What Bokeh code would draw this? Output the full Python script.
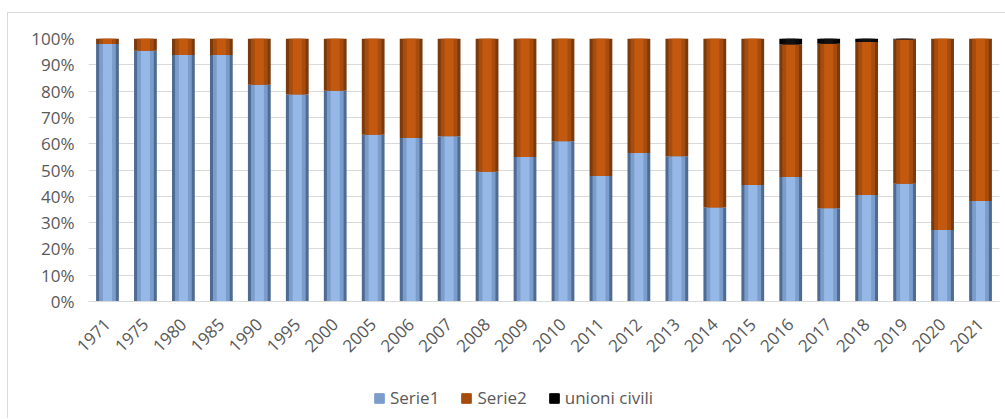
import math
from bokeh.plotting import figure
from bokeh.layouts import column
from bokeh.models import (ColumnDataSource, FactorRange, Legend, LegendItem,
                          NumeralTickFormatter, SingleIntervalTicker, Range1d)
from bokeh.embed import file_html
from bokeh.resources import INLINE

years = ["1971", "1975", "1980", "1985", "1990", "1995", "2000", "2005", "2006",
         "2007", "2008", "2009", "2010", "2011", "2012", "2013", "2014", "2015",
         "2016", "2017", "2018", "2019", "2020", "2021"]
serie1 = [97.9, 95.3, 93.7, 93.7, 82.4, 78.7, 80.1, 63.4, 62.2, 62.8, 49.3, 54.9,
          60.9, 47.7, 56.5, 55.2, 35.7, 44.3, 47.3, 35.5, 40.5, 44.8, 27.2, 38.2]
serie2 = [2.1, 4.7, 6.3, 6.3, 17.6, 21.3, 19.9, 36.6, 37.8, 37.2, 50.7, 45.1,
          39.1, 52.3, 43.5, 44.8, 64.3, 55.7, 50.4, 62.5, 58.2, 54.8, 72.8, 61.8]
unioni = [0, 0, 0, 0, 0, 0, 0, 0, 0, 0, 0, 0,
          0, 0, 0, 0, 0, 0, 2.3, 2.0, 1.3, 0.4, 0, 0]
names = ["Serie1", "Serie2", "unioni civili"]

source = ColumnDataSource(dict(
    years=years,
    s1=[v / 100 for v in serie1],
    s2=[v / 100 for v in serie2],
    u=[v / 100 for v in unioni],
))

FONT = "Open Sans"
GRAY = "#595959"
W = 997

p = figure(x_range=FactorRange(*years), y_range=Range1d(0, 1),
           width=W, height=347, output_backend="svg", toolbar_location=None,
           min_border_left=80, min_border_top=25, min_border_right=6,
           min_border_bottom=56)
p.outline_line_color = None

# bevel-like layered bars
outer = p.vbar_stack(["s1", "s2", "u"], x="years", width=0.6, source=source,
                     color=["#4E6B93", "#7A3A0C", "#000000"], line_color=None)
p.vbar_stack(["s1", "s2", "u"], x="years", width=0.44, source=source,
             color=["#7C9DCB", "#A54C0E", "#0A0A0A"], line_color=None)
p.vbar_stack(["s1", "s2", "u"], x="years", width=0.24, source=source,
             color=["#95B8E6", "#C2590F", "#111111"], line_color=None)

p.yaxis.ticker = SingleIntervalTicker(interval=0.1)
p.yaxis.formatter = NumeralTickFormatter(format="0%")
p.yaxis.axis_line_color = None
p.yaxis.major_tick_line_color = None
p.yaxis.minor_tick_line_color = None
p.xaxis.axis_line_color = "#D9D9D9"
p.xaxis.major_tick_line_color = None
p.xaxis.minor_tick_line_color = None
p.xaxis.major_label_orientation = math.pi / 4
for ax in (p.xaxis, p.yaxis):
    ax.major_label_text_font = FONT
    ax.major_label_text_font_size = "17px"
    ax.major_label_text_color = GRAY
p.yaxis.major_label_standoff = 8
p.xaxis.major_label_standoff = 14
p.xgrid.grid_line_color = None
p.ygrid.grid_line_color = "#D9D9D9"

# legend strip below the chart
q = figure(width=W, height=58, output_backend="svg", toolbar_location=None,
           min_border=0, x_axis_location=None, y_axis_location=None,
           x_range=Range1d(0, 1), y_range=Range1d(0, 1))
q.grid.grid_line_color = None
q.outline_line_color = None
legend_colors = ["#7C9DCB", "#A54C0E", "#000000"]
dummies = [q.vbar(x=[0.5], top=[0], bottom=[0], width=0, color=c) for c in legend_colors]
legend = Legend(items=[LegendItem(label=n, renderers=[r]) for n, r in zip(names, dummies)],
                orientation="horizontal", location=(285, 9),
                label_text_font=FONT, label_text_font_size="17px",
                label_text_color=GRAY, glyph_width=12, glyph_height=12,
                spacing=21, label_standoff=5, border_line_color=None,
                background_fill_alpha=0, padding=4, margin=0)
q.add_layout(legend, "center")

layout = column(p, q, spacing=0)
layout.styles = {"border-left": "1px solid #D9D9D9", "border-top": "1px solid #D9D9D9",
                 "margin-left": "7px", "margin-top": "12px"}

open("out.html", "w").write(file_html(layout, INLINE))
